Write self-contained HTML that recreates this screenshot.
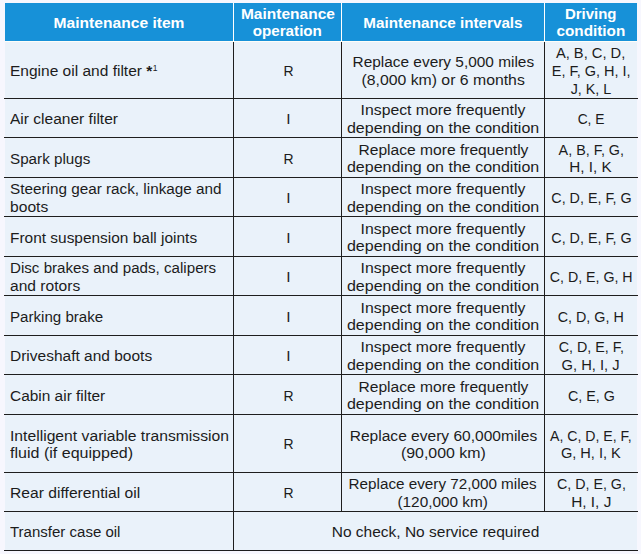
<!DOCTYPE html>
<html><head><meta charset="utf-8"><title>Maintenance schedule</title>
<style>
html,body{margin:0;padding:0}
body{width:641px;height:554px;background:#f7f7fe;position:relative;overflow:hidden;
 font-family:"Liberation Sans",sans-serif;font-size:15.5px;color:#1c1c1c}
.bg{position:absolute;left:5px;top:41px;width:632px;height:510px;background:#eaf2fa}
.wh{position:absolute;left:5px;top:41px;width:632px;height:1px;background:#fefef8}
.h{position:absolute;top:3px;height:38px;background:#1791d8}
.ln{position:absolute;height:18px;line-height:18px;white-space:nowrap}
.ln.m{text-align:center}
.ln.l{text-align:left;padding-left:5px;box-sizing:border-box}
.hd{color:#fff;font-weight:bold}
.t{display:inline-block}
.to-l{transform-origin:0 50%}
.to-c{transform-origin:50% 50%}
.hl{position:absolute;left:4px;width:634px;height:1px;background:#1e1e1e}
.vl{position:absolute;width:1px;background:#1e1e1e}
.wl{position:absolute;top:3px;width:1px;height:38px;background:#fff}
sup{font-size:8.5px;line-height:0;vertical-align:5px;margin-left:0.5px}
</style></head><body>
<div class="bg"></div>
<div class="wh"></div>

<div class="h" style="left:5px;width:228px"></div>
<div class="h" style="left:234px;width:107px"></div>
<div class="h" style="left:342px;width:202px"></div>
<div class="h" style="left:545px;width:92px"></div>
<div class="wl" style="left:233px"></div>
<div class="wl" style="left:341px"></div>
<div class="wl" style="left:544px"></div>
<div class="ln m hd" style="left:5px;width:228px;top:14px"><span class="t to-c" id="h0l0" style="transform:scaleX(1.0063)">Maintenance item</span></div>
<div class="ln m hd" style="left:234px;width:107px;top:5px"><span class="t to-c" id="h1l0" style="transform:scaleX(1.0011)">Maintenance</span></div>
<div class="ln m hd" style="left:234px;width:107px;top:22px"><span class="t to-c" id="h1l1" style="transform:scaleX(0.9797)">operation</span></div>
<div class="ln m hd" style="left:342px;width:202px;top:14px"><span class="t to-c" id="h2l0" style="transform:scaleX(0.9831)">Maintenance intervals</span></div>
<div class="ln m hd" style="left:545px;width:92px;top:5px"><span class="t to-c" id="h3l0" style="transform:scaleX(0.9654)">Driving</span></div>
<div class="ln m hd" style="left:545px;width:92px;top:22px"><span class="t to-c" id="h3l1" style="transform:scaleX(0.9868)">condition</span></div>
<div class="ln l " style="left:5px;width:228px;top:62px"><span class="t to-l" id="r0c0l0" style="transform:scaleX(1.0010)">Engine oil and filter <b>*</b><sup>1</sup></span></div>
<div class="ln m " style="left:236px;width:105px;top:62px"><span class="t to-c" id="r0c1l0" style="transform:scaleX(0.9000)">R</span></div>
<div class="ln m " style="left:342px;width:202px;top:53px"><span class="t to-c" id="r0c2l0" style="transform:scaleX(0.9939)">Replace every 5,000 miles</span></div>
<div class="ln m " style="left:342px;width:202px;top:71px"><span class="t to-c" id="r0c2l1" style="transform:scaleX(1.0195)">(8,000 km) or 6 months</span></div>
<div class="ln m " style="left:545px;width:92px;top:44px"><span class="t to-c" id="r0c3l0" style="transform:scaleX(0.9479)">A, B, C, D,</span></div>
<div class="ln m " style="left:545px;width:92px;top:62px"><span class="t to-c" id="r0c3l1" style="transform:scaleX(0.9341)">E, F, G, H, I,</span></div>
<div class="ln m " style="left:545px;width:92px;top:80px"><span class="t to-c" id="r0c3l2" style="transform:scaleX(0.9227)">J, K, L</span></div>
<div class="ln l " style="left:5px;width:228px;top:110px"><span class="t to-l" id="r1c0l0" style="transform:scaleX(1.0028)">Air cleaner filter</span></div>
<div class="ln m " style="left:236px;width:105px;top:110px"><span class="t to-c" id="r1c1l0">I</span></div>
<div class="ln m " style="left:342px;width:202px;top:101px"><span class="t to-c" id="r1c2l0" style="transform:scaleX(1.0174)">Inspect more frequently</span></div>
<div class="ln m " style="left:342px;width:202px;top:119px"><span class="t to-c" id="r1c2l1" style="transform:scaleX(1.0326)">depending on the condition</span></div>
<div class="ln m " style="left:545px;width:92px;top:110px"><span class="t to-c" id="r1c3l0" style="transform:scaleX(0.8897)">C, E</span></div>
<div class="ln l " style="left:5px;width:228px;top:150px"><span class="t to-l" id="r2c0l0" style="transform:scaleX(0.9812)">Spark plugs</span></div>
<div class="ln m " style="left:236px;width:105px;top:150px"><span class="t to-c" id="r2c1l0" style="transform:scaleX(0.9000)">R</span></div>
<div class="ln m " style="left:342px;width:202px;top:141px"><span class="t to-c" id="r2c2l0" style="transform:scaleX(1.0066)">Replace more frequently</span></div>
<div class="ln m " style="left:342px;width:202px;top:158px"><span class="t to-c" id="r2c2l1" style="transform:scaleX(1.0326)">depending on the condition</span></div>
<div class="ln m " style="left:545px;width:92px;top:141px"><span class="t to-c" id="r2c3l0" style="transform:scaleX(0.9261)">A, B, F, G,</span></div>
<div class="ln m " style="left:545px;width:92px;top:158px"><span class="t to-c" id="r2c3l1" style="transform:scaleX(0.9829)">H, I, K</span></div>
<div class="ln l " style="left:5px;width:228px;top:180px"><span class="t to-l" id="r3c0l0" style="transform:scaleX(0.9859)">Steering gear rack, linkage and</span></div>
<div class="ln l " style="left:5px;width:228px;top:198px"><span class="t to-l" id="r3c0l1" style="transform:scaleX(1.0081)">boots</span></div>
<div class="ln m " style="left:236px;width:105px;top:189px"><span class="t to-c" id="r3c1l0">I</span></div>
<div class="ln m " style="left:342px;width:202px;top:180px"><span class="t to-c" id="r3c2l0" style="transform:scaleX(1.0174)">Inspect more frequently</span></div>
<div class="ln m " style="left:342px;width:202px;top:198px"><span class="t to-c" id="r3c2l1" style="transform:scaleX(1.0326)">depending on the condition</span></div>
<div class="ln m " style="left:545px;width:92px;top:189px"><span class="t to-c" id="r3c3l0" style="transform:scaleX(0.9235)">C, D, E, F, G</span></div>
<div class="ln l " style="left:5px;width:228px;top:229px"><span class="t to-l" id="r4c0l0" style="transform:scaleX(0.9962)">Front suspension ball joints</span></div>
<div class="ln m " style="left:236px;width:105px;top:229px"><span class="t to-c" id="r4c1l0">I</span></div>
<div class="ln m " style="left:342px;width:202px;top:220px"><span class="t to-c" id="r4c2l0" style="transform:scaleX(1.0174)">Inspect more frequently</span></div>
<div class="ln m " style="left:342px;width:202px;top:237px"><span class="t to-c" id="r4c2l1" style="transform:scaleX(1.0326)">depending on the condition</span></div>
<div class="ln m " style="left:545px;width:92px;top:229px"><span class="t to-c" id="r4c3l0" style="transform:scaleX(0.9235)">C, D, E, F, G</span></div>
<div class="ln l " style="left:5px;width:228px;top:259px"><span class="t to-l" id="r5c0l0" style="transform:scaleX(0.9767)">Disc brakes and pads, calipers</span></div>
<div class="ln l " style="left:5px;width:228px;top:277px"><span class="t to-l" id="r5c0l1" style="transform:scaleX(1.0059)">and rotors</span></div>
<div class="ln m " style="left:236px;width:105px;top:268px"><span class="t to-c" id="r5c1l0">I</span></div>
<div class="ln m " style="left:342px;width:202px;top:259px"><span class="t to-c" id="r5c2l0" style="transform:scaleX(1.0174)">Inspect more frequently</span></div>
<div class="ln m " style="left:342px;width:202px;top:277px"><span class="t to-c" id="r5c2l1" style="transform:scaleX(1.0326)">depending on the condition</span></div>
<div class="ln m " style="left:545px;width:92px;top:268px"><span class="t to-c" id="r5c3l0" style="transform:scaleX(0.9157)">C, D, E, G, H</span></div>
<div class="ln l " style="left:5px;width:228px;top:308px"><span class="t to-l" id="r6c0l0" style="transform:scaleX(0.9745)">Parking brake</span></div>
<div class="ln m " style="left:236px;width:105px;top:308px"><span class="t to-c" id="r6c1l0">I</span></div>
<div class="ln m " style="left:342px;width:202px;top:299px"><span class="t to-c" id="r6c2l0" style="transform:scaleX(1.0174)">Inspect more frequently</span></div>
<div class="ln m " style="left:342px;width:202px;top:316px"><span class="t to-c" id="r6c2l1" style="transform:scaleX(1.0326)">depending on the condition</span></div>
<div class="ln m " style="left:545px;width:92px;top:308px"><span class="t to-c" id="r6c3l0" style="transform:scaleX(0.9229)">C, D, G, H</span></div>
<div class="ln l " style="left:5px;width:228px;top:347px"><span class="t to-l" id="r7c0l0" style="transform:scaleX(1.0000)">Driveshaft and boots</span></div>
<div class="ln m " style="left:236px;width:105px;top:347px"><span class="t to-c" id="r7c1l0">I</span></div>
<div class="ln m " style="left:342px;width:202px;top:338px"><span class="t to-c" id="r7c2l0" style="transform:scaleX(1.0174)">Inspect more frequently</span></div>
<div class="ln m " style="left:342px;width:202px;top:356px"><span class="t to-c" id="r7c2l1" style="transform:scaleX(1.0326)">depending on the condition</span></div>
<div class="ln m " style="left:545px;width:92px;top:338px"><span class="t to-c" id="r7c3l0" style="transform:scaleX(0.9217)">C, D, E, F,</span></div>
<div class="ln m " style="left:545px;width:92px;top:356px"><span class="t to-c" id="r7c3l1" style="transform:scaleX(0.9483)">G, H, I, J</span></div>
<div class="ln l " style="left:5px;width:228px;top:387px"><span class="t to-l" id="r8c0l0" style="transform:scaleX(0.9958)">Cabin air filter</span></div>
<div class="ln m " style="left:236px;width:105px;top:387px"><span class="t to-c" id="r8c1l0" style="transform:scaleX(0.9000)">R</span></div>
<div class="ln m " style="left:342px;width:202px;top:378px"><span class="t to-c" id="r8c2l0" style="transform:scaleX(1.0066)">Replace more frequently</span></div>
<div class="ln m " style="left:342px;width:202px;top:395px"><span class="t to-c" id="r8c2l1" style="transform:scaleX(1.0326)">depending on the condition</span></div>
<div class="ln m " style="left:545px;width:92px;top:387px"><span class="t to-c" id="r8c3l0" style="transform:scaleX(0.9224)">C, E, G</span></div>
<div class="ln l " style="left:5px;width:228px;top:427px"><span class="t to-l" id="r9c0l0" style="transform:scaleX(1.0126)">Intelligent variable transmission</span></div>
<div class="ln l " style="left:5px;width:228px;top:444px"><span class="t to-l" id="r9c0l1" style="transform:scaleX(1.0356)">fluid (if equipped)</span></div>
<div class="ln m " style="left:236px;width:105px;top:435px"><span class="t to-c" id="r9c1l0" style="transform:scaleX(0.9000)">R</span></div>
<div class="ln m " style="left:342px;width:202px;top:427px"><span class="t to-c" id="r9c2l0" style="transform:scaleX(1.0027)">Replace every 60,000miles</span></div>
<div class="ln m " style="left:342px;width:202px;top:444px"><span class="t to-c" id="r9c2l1" style="transform:scaleX(1.0272)">(90,000 km)</span></div>
<div class="ln m " style="left:545px;width:92px;top:427px"><span class="t to-c" id="r9c3l0" style="transform:scaleX(0.9112)">A, C, D, E, F,</span></div>
<div class="ln m " style="left:545px;width:92px;top:444px"><span class="t to-c" id="r9c3l1" style="transform:scaleX(0.9403)">G, H, I, K</span></div>
<div class="ln l " style="left:5px;width:228px;top:484px"><span class="t to-l" id="r10c0l0" style="transform:scaleX(1.0102)">Rear differential oil</span></div>
<div class="ln m " style="left:236px;width:105px;top:484px"><span class="t to-c" id="r10c1l0" style="transform:scaleX(0.9000)">R</span></div>
<div class="ln m " style="left:342px;width:202px;top:475px"><span class="t to-c" id="r10c2l0" style="transform:scaleX(0.9832)">Replace every 72,000 miles</span></div>
<div class="ln m " style="left:342px;width:202px;top:493px"><span class="t to-c" id="r10c2l1" style="transform:scaleX(0.9900)">(120,000 km)</span></div>
<div class="ln m " style="left:545px;width:92px;top:475px"><span class="t to-c" id="r10c3l0" style="transform:scaleX(0.9192)">C, D, E, G,</span></div>
<div class="ln m " style="left:545px;width:92px;top:493px"><span class="t to-c" id="r10c3l1" style="transform:scaleX(0.9921)">H, I, J</span></div>
<div class="ln l " style="left:5px;width:228px;top:523px"><span class="t to-l" id="r11c0l0" style="transform:scaleX(0.9690)">Transfer case oil</span></div>
<div class="ln m " style="left:234px;width:403px;top:523px"><span class="t to-c" id="r11c2l0" style="transform:scaleX(1.0000)">No check, No service required</span></div>
<div class="hl" style="top:98px"></div>
<div class="hl" style="top:137px"></div>
<div class="hl" style="top:177px"></div>
<div class="hl" style="top:216px"></div>
<div class="hl" style="top:256px"></div>
<div class="hl" style="top:295px"></div>
<div class="hl" style="top:335px"></div>
<div class="hl" style="top:374px"></div>
<div class="hl" style="top:414px"></div>
<div class="hl" style="top:472px"></div>
<div class="hl" style="top:511px"></div>
<div class="hl" style="top:550px"></div>
<div class="vl" style="left:233px;top:42px;height:508px"></div>
<div class="vl" style="left:341px;top:42px;height:469px"></div>
<div class="vl" style="left:544px;top:42px;height:469px"></div>
</body></html>
